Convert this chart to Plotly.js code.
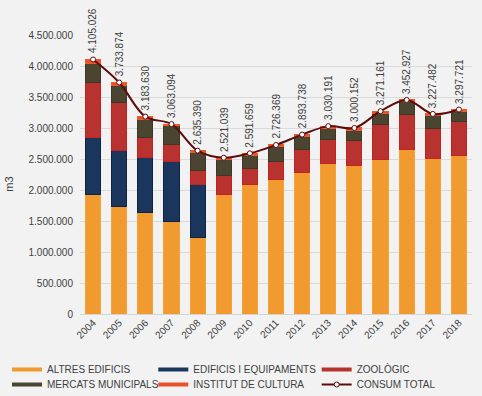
<!DOCTYPE html>
<html>
<head>
<meta charset="utf-8">
<script src="https://cdn.plot.ly/plotly-3.0.1.min.js"></script>
<style>html,body{margin:0;padding:0;background:#f2f2f2;}#chart{width:482px;height:396px;}</style>
</head>
<body>
<div id="chart"></div>
<script>
const years = [2004,2005,2006,2007,2008,2009,2010,2011,2012,2013,2014,2015,2016,2017,2018];
const altresEdificis = [1935000,1731000,1645000,1484000,1226000,1924000,2085000,2177000,2290000,2435000,2392000,2489000,2650000,2505000,2553000];
const edificisEquipaments = [904000,903000,887000,978000,855000,0,0,0,0,0,0,0,0,0,0];
const zoologic = [892000,774000,312000,280000,235000,307000,264000,285000,371000,376000,403000,564000,565000,484000,544000];
const mercatsMunicipals = [306000,274000,301000,306000,291000,258000,209000,232000,204000,180000,166000,189000,215000,210000,177000];
const institutCultura = [68026,51874,38630,15094,23390,32039,33659,32369,28738,39191,39152,29161,22927,28482,23721];
const consumTotal = [4105026,3733874,3183630,3063094,2635390,2521039,2591659,2726369,2893738,3030191,3000152,3271161,3452927,3227482,3297721];

const fmt = v => String(v).replace(/\B(?=(\d{3})+(?!\d))/g, '.');

const txt = '#404040';
const font = {family: 'Liberation Sans, Arial, sans-serif', size: 10, color: txt};

const series = [
  {name: 'ALTRES EDIFICIS', y: altresEdificis, color: '#f09a30', line: '#f7a234', legend: 'legend'},
  {name: 'EDIFICIS I EQUIPAMENTS', y: edificisEquipaments, color: '#1b365d', line: '#0e2347', legend: 'legend2'},
  {name: 'ZOOLÒGIC', y: zoologic, color: '#b83330', line: '#c8201e', legend: 'legend3'},
  {name: 'MERCATS MUNICIPALS', y: mercatsMunicipals, color: '#4a4430', line: '#3c3826', legend: 'legend4'},
  {name: 'INSTITUT DE CULTURA', y: institutCultura, color: '#e9512a', line: '#f05a2a', legend: 'legend5'}
];

const traces = series.map(s => ({
  type: 'bar', x: years, y: s.y, name: s.name,
  marker: {color: s.color, line: {color: s.line, width: 1}},
  showlegend: false
}));

traces.push({
  type: 'scatter', mode: 'lines+markers', x: years, y: consumTotal, name: 'CONSUM TOTAL',
  line: {color: '#5c0c0c', width: 2, shape: 'spline', smoothing: 1},
  marker: {color: '#ffffff', size: 5, line: {color: '#5c0c0c', width: 1}},
  showlegend: false
});

// legend entries (line-style swatches as in the original), on a hidden axis pair
series.forEach(s => traces.push({
  type: 'scatter', mode: 'lines', x: [null], y: [null], name: s.name,
  xaxis: 'x2', yaxis: 'y2', legend: s.legend,
  line: {color: s.color, width: 4}, showlegend: true
}));
traces.push({
  type: 'scatter', mode: 'lines+markers', x: [null], y: [null], name: 'CONSUM TOTAL',
  xaxis: 'x2', yaxis: 'y2', legend: 'legend6',
  line: {color: '#5c0c0c', width: 2},
  marker: {color: '#ffffff', size: 5, line: {color: '#5c0c0c', width: 1}},
  showlegend: true
});

const annotations = years.map((yr, i) => ({
  x: yr, y: consumTotal[i], xref: 'x', yref: 'y', text: fmt(consumTotal[i]), textangle: -90,
  showarrow: false, xanchor: 'center', yanchor: 'bottom', yshift: 4,
  font: font
}));
// y-axis unit label
annotations.push({
  xref: 'paper', yref: 'paper', x: -0.18, y: 0.465, text: 'm3', textangle: -90,
  showarrow: false, xanchor: 'center', yanchor: 'middle', font: {family: font.family, size: 11, color: txt}
});

const lg = (x, y) => ({
  orientation: 'v', xref: 'container', yref: 'container', x: x, y: y,
  xanchor: 'left', yanchor: 'middle',
  font: font, itemwidth: 30, bgcolor: 'rgba(0,0,0,0)'
});

const layout = {
  width: 482, height: 396,
  paper_bgcolor: '#f2f2f2', plot_bgcolor: '#f2f2f2',
  margin: {l: 80, r: 10, t: 35, b: 82, autoexpand: false},
  barmode: 'stack', bargap: 0.42,
  separators: ',.',
  font: font,
  xaxis: {
    range: [2003.5, 2018.5], dtick: 1, tickformat: 'd',
    tickangle: -45, tickfont: font, showgrid: false,
    showline: false, ticks: '', zeroline: false
  },
  yaxis: {
    range: [0, 4500000], dtick: 500000, tickformat: ',d', tickfont: font,
    gridcolor: '#dadada', gridwidth: 1, zeroline: true, zerolinecolor: '#d4d4d4',
    showline: false, ticks: '', ticklabelstandoff: 6
  },
  xaxis2: {overlaying: 'x', visible: false, range: [0, 1]},
  yaxis2: {overlaying: 'y', visible: false, range: [0, 1]},
  legend: lg(0.0145, 0.067),
  legend2: lg(0.318, 0.067),
  legend3: lg(0.657, 0.067),
  legend4: lg(0.0145, 0.029),
  legend5: lg(0.318, 0.029),
  legend6: lg(0.657, 0.029),
  annotations: annotations,
  showlegend: true
};

Plotly.newPlot('chart', traces, layout, {displayModeBar: false, staticPlot: true});
</script>
</body>
</html>
